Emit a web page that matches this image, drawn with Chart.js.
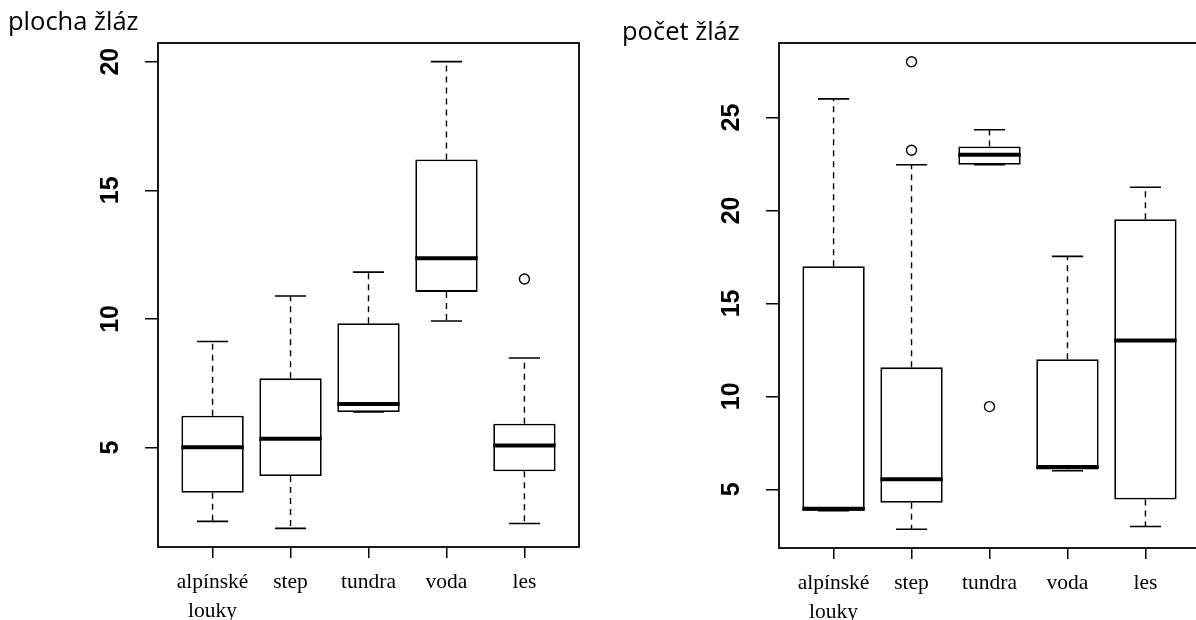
<!DOCTYPE html>
<html>
<head>
<meta charset="utf-8">
<script src="https://cdn.jsdelivr.net/npm/chart.js@4.4.0/dist/chart.umd.min.js"></script>
<style>
body{margin:0;background:#fff;overflow:hidden;width:1196px;height:620px;position:relative;}
#left{position:absolute;left:0;top:0;}
#right{position:absolute;left:598px;top:0;}
</style>
</head>
<body>
<canvas id="left" width="598" height="620"></canvas>
<canvas id="right" width="620" height="620"></canvas>
<script>
const categories = [["alpínské", "louky"], "step", "tundra", "voda", "les"];

// plocha žláz
const plochaLow = [2.13, 1.86, 6.38, 9.92, 2.05];
const plochaQ1 = [3.24, 3.89, 6.38, 11.05, 4.08];
const plochaMedian = [5.01, 5.34, 6.69, 12.36, 5.08];
const plochaQ3 = [6.24, 7.69, 9.83, 16.2, 5.93];
const plochaHigh = [9.12, 10.89, 11.82, 20.0, 8.48];
const plochaOutX = [5];
const plochaOutY = [11.55];

// počet žláz
const pocetLow = [3.85, 2.85, 22.46, 6.0, 3.0];
const pocetQ1 = [3.85, 4.28, 22.46, 6.06, 4.45];
const pocetMedian = [3.95, 5.54, 23.0, 6.2, 13.0];
const pocetQ3 = [17.0, 11.56, 23.44, 12.0, 19.53];
const pocetHigh = [26.0, 22.46, 24.34, 17.53, 21.25];
const pocetOutX = [2, 2, 3];
const pocetOutY = [28.0, 23.24, 9.45];

function rBox(s, title, tx, ty){
    return {
        id: "rbox",
        afterDatasetsDraw(chart){
            const ctx = chart.ctx;
            const x = chart.scales.x;
            const y = chart.scales.y;
            const a = chart.chartArea;
            const bars = chart.getDatasetMeta(0).data;
            ctx.save();
            ctx.strokeStyle = "#000";
            for(let i = 0; i < s.med.length; i++){
                const cx = x.getPixelForValue(i + 1);
                const w = bars[i].width;
                // whiskers
                ctx.lineWidth = 1.4;
                ctx.setLineDash([6, 5]);
                ctx.beginPath();
                if(s.hi[i] > s.q3[i]){
                    ctx.moveTo(cx, y.getPixelForValue(s.q3[i]));
                    ctx.lineTo(cx, y.getPixelForValue(s.hi[i]));
                }
                if(s.lo[i] < s.q1[i]){
                    ctx.moveTo(cx, y.getPixelForValue(s.q1[i]));
                    ctx.lineTo(cx, y.getPixelForValue(s.lo[i]));
                }
                ctx.stroke();
                ctx.setLineDash([]);
                // staples
                ctx.lineWidth = 1.6;
                ctx.beginPath();
                [s.lo[i], s.hi[i]].forEach(function(v){
                    const py = y.getPixelForValue(v);
                    ctx.moveTo(cx - w / 4, py);
                    ctx.lineTo(cx + w / 4, py);
                });
                ctx.stroke();
                // median
                ctx.lineWidth = 4;
                ctx.beginPath();
                const pm = y.getPixelForValue(s.med[i]);
                ctx.moveTo(cx - w / 2, pm);
                ctx.lineTo(cx + w / 2, pm);
                ctx.stroke();
            }
            ctx.lineWidth = 1.8;
            ctx.strokeRect(a.left, a.top, a.right - a.left, a.bottom - a.top);
            ctx.fillStyle = "#000";
            ctx.font = '25.5px "Open Sans"';
            ctx.textBaseline = "alphabetic";
            ctx.fillText(title, tx, ty);
            ctx.restore();
        }
    };
}

function makeChart(id, low, q1, med, q3, high, outX, outY, yw, padRight, xh, title, tx, ty){
    const lo = Math.min(...low, ...outY);
    const hi = Math.max(...high, ...outY);
    const pad = (hi - lo) * 0.04;
    new Chart(document.getElementById(id), {
        type: "bar",
        data: {
            datasets: [
                {
                    type: "bar",
                    data: q1.map(function(v, i){ return {x: i + 1, y: [v, q3[i]]}; }),
                    backgroundColor: "#fff",
                    borderColor: "#000",
                    borderWidth: 1.8,
                    borderSkipped: false,
                    categoryPercentage: 1,
                    barPercentage: 0.8
                },
                {
                    type: "scatter",
                    data: outX.map(function(v, i){ return {x: v, y: outY[i]}; }),
                    pointStyle: "circle",
                    pointRadius: 5,
                    pointBorderWidth: 1.4,
                    pointBorderColor: "#000",
                    pointBackgroundColor: "rgba(0,0,0,0)"
                }
            ]
        },
        options: {
            responsive: false,
            animation: false,
            devicePixelRatio: 1,
            layout: {padding: {top: 43, right: padRight, left: 0, bottom: 0}},
            plugins: {legend: {display: false}, tooltip: {enabled: false}},
            scales: {
                x: {
                    type: "linear",
                    min: 0.3,
                    max: 5.7,
                    offset: false,
                    afterFit: function(sc){ sc.height = xh; },
                    ticks: {
                        stepSize: 1,
                        includeBounds: false,
                        autoSkip: false,
                        maxRotation: 0,
                        color: "#000",
                        padding: 10,
                        font: {family: "Liberation Serif", size: 21.5, lineHeight: 1.33},
                        callback: function(v){ return categories[Math.round(v) - 1]; }
                    },
                    grid: {offset: false, drawOnChartArea: false, color: "#000", lineWidth: 1.5, tickLength: 11},
                    border: {display: false}
                },
                y: {
                    min: lo - pad,
                    max: hi + pad,
                    afterFit: function(sc){ sc.width = yw; },
                    ticks: {
                        stepSize: 5,
                        includeBounds: false,
                        minRotation: 90,
                        maxRotation: 90,
                        crossAlign: "center",
                        padding: 20,
                        color: "#000",
                        font: {family: "Liberation Sans", size: 25, weight: "bold"}
                    },
                    grid: {drawOnChartArea: false, color: "#000", lineWidth: 1.5, tickLength: 13},
                    border: {display: false}
                }
            }
        },
        plugins: [rBox({lo: low, q1: q1, med: med, q3: q3, hi: high}, title, tx, ty)]
    });
}

document.addEventListener("DOMContentLoaded", function(){
    makeChart("left", plochaLow, plochaQ1, plochaMedian, plochaQ3, plochaHigh,
        plochaOutX, plochaOutY, 158, 19, 73, "plocha žláz", 8, 30);
    makeChart("right", pocetLow, pocetQ1, pocetMedian, pocetQ3, pocetHigh,
        pocetOutX, pocetOutY, 181, 18, 72, "počet žláz", 24, 40);
});
</script>
</body>
</html>
